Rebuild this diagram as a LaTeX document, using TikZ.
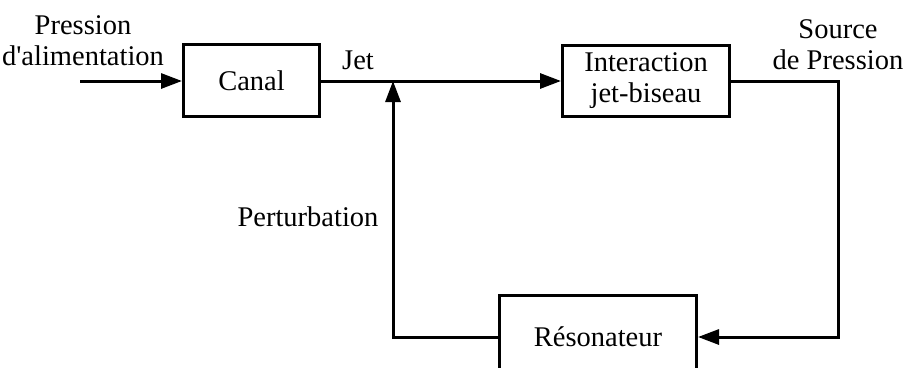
\documentclass[tikz,border=0pt]{standalone}
\usepackage{fontspec}
\setmainfont{Liberation Serif}
\usepackage{tikz}
\usetikzlibrary{arrows.meta}
\tikzset{block/.style={draw,rectangle,inner sep=0pt,align=center},
         beschr/.style={inner sep=0pt,align=center}}

\begin{document}
\begin{tikzpicture}[x=1pt,y=-1pt,line width=3pt,>={Triangle[length=21pt,width=15pt]},
    font=\fontsize{28.5}{31}\selectfont]
    \useasboundingbox (0,0) rectangle (907,367);
    \path node [block, minimum width=136pt, minimum height=72pt] (canal) at (251.5,80.5) {Canal}
          node [block, minimum width=167pt, minimum height=71pt] (inter) at (646,81) {Interaction\\jet-biseau}
          node [block, minimum width=197pt, minimum height=84pt] (reso) at (598,337) {R\'esonateur}
          node [beschr] (alim) at (83,41) {Pression\\d\textquotesingle alimentation}
          node [beschr] (jet) at (358,60) {Jet}
          node [beschr] (pert) at (308,217) {Perturbation}
          node [beschr] (src) at (838,45) {Source\\de Pression};
    \coordinate (ein) at (80,81);
    \coordinate (jn) at (393,81);
    \coordinate (ecke) at (838,337);

    \draw[->] (ein) -- (canal.west |- ein);
    \draw[->] (canal.east |- ein) -- (inter.west |- ein);
    \draw[->] (inter.east) -| (ecke) -- (reso.east);
    \draw[->] (reso.west) -| (jn);
\end{tikzpicture}
\end{document}
